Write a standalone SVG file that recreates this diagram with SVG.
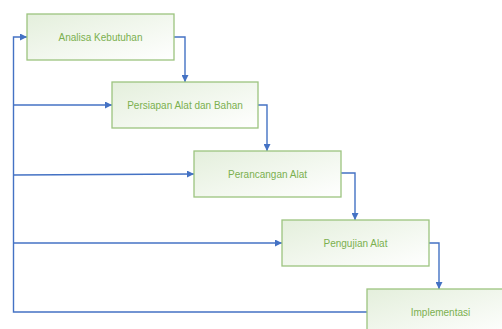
<svg xmlns="http://www.w3.org/2000/svg" width="502" height="329" viewBox="0 0 502 329">
<defs>
<linearGradient id="g" x1="0" y1="0" x2="1" y2="1">
<stop offset="0" stop-color="#e4efdc"/>
<stop offset="1" stop-color="#ffffff"/>
</linearGradient>
<marker id="a" viewBox="0 0 10 10" refX="10" refY="5" markerWidth="7" markerHeight="7" orient="auto" markerUnits="userSpaceOnUse">
<path d="M0,0 L10,5 L0,10 z" fill="#4472c4"/>
</marker>
<style>
.box{fill:url(#g);stroke:#9cc47f;stroke-width:1.3}
.lbl{font-family:"Liberation Sans",Arial,sans-serif;font-size:10px;fill:#7bb04f;text-anchor:middle;dominant-baseline:central}
.c{fill:none;stroke:#4472c4;stroke-width:1.4}
</style>
</defs>
<rect width="502" height="329" fill="#ffffff"/>
<g id="connectors">
<path class="c" d="M174,37 H185 V82" marker-end="url(#a)"/>
<path class="c" d="M258,105 H267 V151" marker-end="url(#a)"/>
<path class="c" d="M341,173 H355 V220" marker-end="url(#a)"/>
<path class="c" d="M429,243 H439 V289" marker-end="url(#a)"/>
<path class="c" d="M367,312 H13.5 V37 H27" marker-end="url(#a)"/>
<path class="c" d="M13.5,105 H112" marker-end="url(#a)"/>
<path class="c" d="M13.5,175 L194,174" marker-end="url(#a)"/>
<path class="c" d="M13.5,243 H282" marker-end="url(#a)"/>
</g>
<g id="n1"><rect class="box" x="27" y="14" width="147" height="46"/><text class="lbl" x="100.5" y="37">Analisa Kebutuhan</text></g>
<g id="n2"><rect class="box" x="112" y="82" width="146" height="46"/><text class="lbl" x="185" y="105">Persiapan Alat dan Bahan</text></g>
<g id="n3"><rect class="box" x="194" y="151" width="147" height="46"/><text class="lbl" x="267.5" y="174">Perancangan Alat</text></g>
<g id="n4"><rect class="box" x="282" y="220" width="147" height="46"/><text class="lbl" x="355.5" y="243">Pengujian Alat</text></g>
<g id="n5"><rect class="box" x="367" y="289" width="147" height="46"/><text class="lbl" x="440.5" y="312">Implementasi</text></g>
</svg>
